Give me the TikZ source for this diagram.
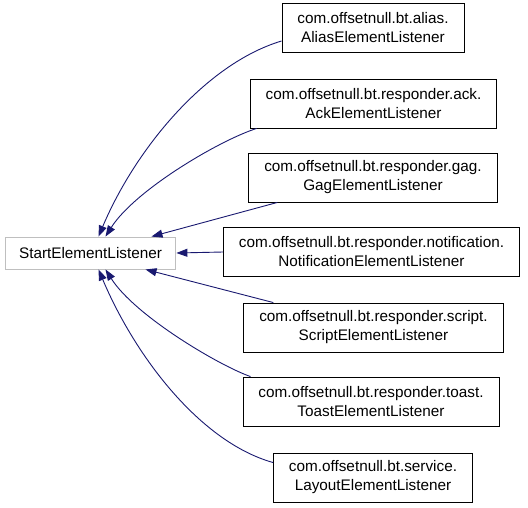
\documentclass[tikz,border=0pt]{standalone}
\usepackage{fontspec}
\setmainfont{Liberation Sans}
\usetikzlibrary{arrows.meta}
\definecolor{inhblue}{RGB}{25, 25, 112}
\definecolor{basegray}{RGB}{191, 191, 191}

\begin{document}
\begin{tikzpicture}[x=1pt, y=-1pt,
      cls/.style={draw=black, line width=0.9pt, fill=white,
                  align=center, inner xsep=15.5pt, inner ysep=0pt,
                  minimum height=49pt,
                  font=\fontsize{15.3}{19}\selectfont, anchor=center},
      base/.style={cls, draw=basegray, minimum height=32pt, inner xsep=14pt},
      inh/.style={draw=inhblue, line width=0.9pt,
                  -{Triangle[length=11pt, width=8pt]}},
    ]
    \useasboundingbox (0,0) rectangle (528,507);
    %% base class
    \node[base] (start) at (90.5, 253) {StartElementListener};
    %% derived classes
    \node[cls] (alias)  at (373, 28)    {com.offsetnull.bt.alias.\\AliasElementListener};
    \node[cls] (ack)    at (373.5, 103.5) {com.offsetnull.bt.responder.ack.\\AckElementListener};
    \node[cls] (gag)    at (373, 177.5) {com.offsetnull.bt.responder.gag.\\GagElementListener};
    \node[cls] (notif)  at (371.5, 252) {com.offsetnull.bt.responder.notification.\\NotificationElementListener};
    \node[cls] (script) at (373.5, 327.5) {com.offsetnull.bt.responder.script.\\ScriptElementListener};
    \node[cls] (toast)  at (371, 401.5) {com.offsetnull.bt.responder.toast.\\ToastElementListener};
    \node[cls] (layout) at (373, 477.5) {com.offsetnull.bt.service.\\LayoutElementListener};

    %% inheritance edges
    \draw[inh] ([yshift=-13pt]alias.west)
      .. controls (205, 64) and (135, 150) .. ([xshift=8pt]start.north);
    \draw[inh] ([xshift=7pt]ack.south west)
      .. controls (220, 140) and (135, 190) .. ([xshift=15pt]start.north);
    \draw[inh] ([xshift=29pt]gag.south west) -- ([xshift=61pt]start.north);
    \draw[inh] (notif.west) -- (start.east);
    \draw[inh] ([xshift=30pt]script.north west) -- ([xshift=55pt]start.south);
    \draw[inh] ([xshift=8pt]toast.north west)
      .. controls (220, 366) and (135, 316) .. ([xshift=15pt]start.south);
    \draw[inh] ([yshift=15pt]layout.west)
      .. controls (200, 442) and (135, 356) .. ([xshift=8pt]start.south);
  \end{tikzpicture}
\end{document}
